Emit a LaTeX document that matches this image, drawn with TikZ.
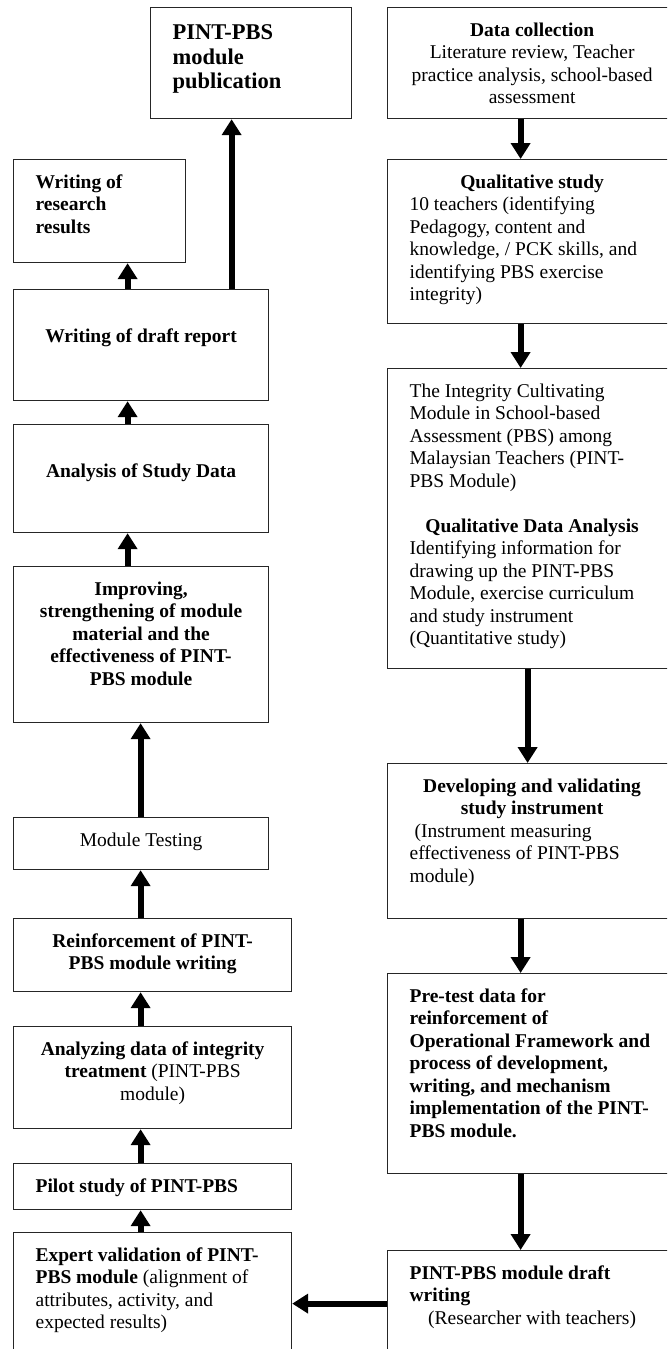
\documentclass[tikz,border=0pt]{standalone}
\usepackage{fontspec}
\setmainfont{Liberation Serif}
\usetikzlibrary{arrows.meta}

\newcommand{\stagebody}[4]{\parbox[c][\dimexpr#2pt-26pt\relax][t]{\dimexpr#1pt-44pt\relax}{\fontsize{19.5}{22.5}\selectfont#3\strut#4}}

\tikzset{
  stage/.style={draw=black!85, line width=1.2pt, inner xsep=22pt, inner ysep=13pt, anchor=north west},
  flow/.style={line width=6pt, -{Triangle[length=16pt,width=19pt]}}
}

\begin{document}
\begin{tikzpicture}[x=1pt,y=-1pt]
    \useasboundingbox (0,0) rectangle (667,1349);
    \clip (0,0) rectangle (667,1349);

    \node[stage] (pub) at (150,7) {\stagebody{201}{111}{\fontsize{22.5}{24.5}\selectfont\raggedright\vspace*{2pt}}{\textbf{PINT-PBS\\module\\publication}}};
    \node[stage] (research) at (13,159) {\stagebody{172}{103}{\raggedright}{\textbf{Writing of\\research\\results}}};
    \node[stage] (draft) at (13,289) {\stagebody{255}{111}{\vspace*{24pt}\centering}{\textbf{Writing of draft report}}};
    \node[stage] (analysis) at (13,424) {\stagebody{255}{108}{\vspace*{24pt}\centering}{\textbf{Analysis of Study Data}}};
    \node[stage] (improving) at (13,566) {\stagebody{255}{156}{\centering}{\textbf{Improving,\\strengthening of module\\material and the\\effectiveness of PINT-\\PBS module}}};
    \node[stage] (testing) at (13,817) {\stagebody{255}{52}{\centering}{Module Testing}};
    \node[stage] (reinforce) at (13,918) {\stagebody{278}{73}{\centering}{\textbf{Reinforcement of PINT-\\PBS module writing}}};
    \node[stage] (analyzing) at (13,1026) {\stagebody{278}{102}{\centering}{\textbf{Analyzing data of integrity\\treatment} (PINT-PBS\\module)}};
    \node[stage] (pilot) at (13,1163) {\stagebody{278}{46}{\raggedright}{\textbf{Pilot study of PINT-PBS}}};
    \node[stage] (expert) at (13,1232) {\stagebody{278}{128}{\raggedright}{\textbf{Expert validation of PINT-\\PBS module} (alignment of\\attributes, activity, and\\expected results)}};

    \node[stage] (datacoll) at (387,7) {\stagebody{289}{111}{\centering}{\textbf{Data collection}\\Literature review, Teacher\\practice analysis, school-based\\assessment}};
    \node[stage] (qualitative) at (387,159) {\stagebody{289}{164}{\centering}{\textbf{Qualitative study}\par\raggedright 10 teachers (identifying\\Pedagogy, content and\\knowledge, / PCK skills, and\\identifying PBS exercise\\integrity)}};
    \node[stage] (integrity) at (387,368) {\stagebody{289}{300}{\raggedright}{The Integrity Cultivating\\Module in School-based\\Assessment (PBS) among\\Malaysian Teachers (PINT-\\PBS Module)\par\vspace{22.5pt}{\centering\textbf{Qualitative Data Analysis}\par}Identifying information for\\drawing up the PINT-PBS\\Module, exercise curriculum\\and study instrument\\(Quantitative study)}};
    \node[stage] (developing) at (387,763) {\stagebody{289}{155}{\centering}{\textbf{Developing and validating\\study instrument}\par\raggedright\hspace*{5pt}(Instrument measuring\\effectiveness of PINT-PBS\\module)}};
    \node[stage] (pretest) at (387,973) {\stagebody{289}{200}{\raggedright}{\textbf{Pre-test data for\\reinforcement of\\Operational Framework and\\process of development,\\writing, and mechanism\\implementation of the PINT-\\PBS module.}}};
    \node[stage] (draftwriting) at (387,1250) {\stagebody{289}{110}{\raggedright}{\textbf{PINT-PBS module draft\\writing}\par{\centering(Researcher with teachers)\par}}};

    \draw[flow] ([xshift=90.5pt]draft.north) -- ([xshift=90.5pt]draft.north |- pub.south);
    \draw[flow] ([xshift=-13.5pt]draft.north) -- ([xshift=-13.5pt]draft.north |- research.south);
    \draw[flow] ([xshift=-13.5pt]analysis.north) -- ([xshift=-13.5pt]analysis.north |- draft.south);
    \draw[flow] ([xshift=-13.5pt]improving.north) -- ([xshift=-13.5pt]improving.north |- analysis.south);
    \draw[flow] ([xshift=-0.5pt]testing.north) -- ([xshift=-0.5pt]testing.north |- improving.south);
    \draw[flow] ([xshift=-12pt]reinforce.north) -- ([xshift=-12pt]reinforce.north |- testing.south);
    \draw[flow] ([xshift=-12pt]analyzing.north) -- ([xshift=-12pt]analyzing.north |- reinforce.south);
    \draw[flow] ([xshift=-12pt]pilot.north) -- ([xshift=-12pt]pilot.north |- analyzing.south);
    \draw[flow] ([xshift=-12pt]expert.north) -- ([xshift=-12pt]expert.north |- pilot.south);

    \draw[flow] ([xshift=-11.5pt]datacoll.south) -- ([xshift=-11.5pt]datacoll.south |- qualitative.north);
    \draw[flow] ([xshift=-11.5pt]qualitative.south) -- ([xshift=-11.5pt]qualitative.south |- integrity.north);
    \draw[flow] ([xshift=-4.5pt]integrity.south) -- ([xshift=-4.5pt]integrity.south |- developing.north);
    \draw[flow] ([xshift=-11.5pt]developing.south) -- ([xshift=-11.5pt]developing.south |- pretest.north);
    \draw[flow] ([xshift=-11.5pt]pretest.south) -- ([xshift=-11.5pt]pretest.south |- draftwriting.north);
    \draw[flow] ([yshift=2pt]draftwriting.west) -- ([yshift=2pt]draftwriting.west -| expert.east);
\end{tikzpicture}
\end{document}
